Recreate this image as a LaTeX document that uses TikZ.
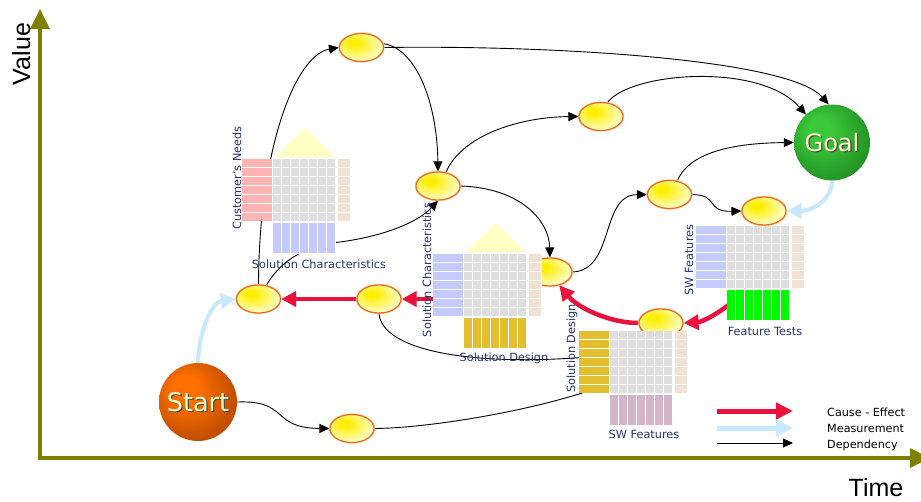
\documentclass[tikz,border=0pt]{standalone}
\usepackage{fontspec}
\setmainfont{DejaVu Sans}
\newfontfamily\axisfont{Liberation Sans}
\usetikzlibrary{arrows.meta,shapes.geometric}

\pgfdeclarelayer{back}
\pgfsetlayers{back,main}

% palette
\definecolor{axisolive}{RGB}{128,128,0}
\definecolor{causered}{RGB}{234,18,60}
\definecolor{measureblue}{RGB}{200,232,255}
\definecolor{eggcore}{RGB}{255,238,0}
\definecolor{eggpale}{RGB}{255,255,228}
\definecolor{eggline}{RGB}{232,110,28}
\definecolor{eggglow}{RGB}{250,205,170}
\definecolor{goalA}{RGB}{58,200,58}
\definecolor{goalB}{RGB}{26,122,26}
\definecolor{startA}{RGB}{255,112,0}
\definecolor{startB}{RGB}{160,60,0}
\definecolor{hubtext}{RGB}{255,255,200}
\definecolor{labelnavy}{RGB}{38,52,112}
\definecolor{cellgray}{RGB}{222,222,222}
\definecolor{cellbeige}{RGB}{242,226,212}
\definecolor{rowpink}{RGB}{255,180,180}
\definecolor{rowblue}{RGB}{196,204,255}
\definecolor{colgold}{RGB}{227,190,46}
\definecolor{colmauve}{RGB}{212,180,200}
\definecolor{colgreen}{RGB}{0,250,0}
\definecolor{roofyellow}{RGB}{255,255,196}

\pgfdeclareradialshading{eggfill}{\pgfqpoint{-10bp}{10bp}}{color(0bp)=(eggcore); color(5bp)=(eggcore); color(32bp)=(eggpale); color(50bp)=(eggpale)}
\pgfdeclareradialshading{goalfill}{\pgfqpoint{-10bp}{10bp}}{color(0bp)=(goalA); color(8bp)=(goalA); color(40bp)=(goalB); color(50bp)=(goalB)}
\pgfdeclareradialshading{startfill}{\pgfqpoint{-10bp}{10bp}}{color(0bp)=(startA); color(8bp)=(startA); color(40bp)=(startB); color(50bp)=(startB)}

% relationship matrix: #1,#2 = top-left corner of the grey grid,
% #3 = colour of the row block, #4 = colour of the column block
\newcommand\qfdblock[4]{%
  \begin{scope}[shift={(#1,#2)}]
    \fill[white] (-31,0) rectangle (-0.5,62);
    \fill[white] (0,0) rectangle (78,62);
    \fill[white] (0,63) rectangle (63,95);
    \foreach \r in {0,...,6} {
      \fill[#3] (-31,\r*9) rectangle (-1.5,\r*9+7.5);
      \foreach \c in {0,...,6}
        \fill[cellgray] (\c*9,\r*9) rectangle (\c*9+7.5,\r*9+7.5);
      \fill[cellbeige] (65,\r*9) rectangle (77,\r*9+7.5);
    }
    \foreach \c in {0,...,6}
      \fill[#4] (\c*9,64) rectangle (\c*9+7.5,94);
  \end{scope}}
\newcommand\qfdroof[2]{%
  \fill[roofyellow] (#1+2,#2-2) -- (#1+32,#2-31) -- (#1+62,#2-2) -- cycle;}

\begin{document}
\begin{tikzpicture}[x=1pt,y=-1pt,
  dep/.style={draw=black, line width=0.9pt, -{Triangle[length=10pt,width=9pt]}},
  cause/.style={draw=causered, line width=4.5pt, -{Triangle[length=15pt,width=15pt]}},
  measure/.style={draw=measureblue, line width=4pt, -{Triangle[length=15pt,width=15pt]}},
  axis/.style={draw=axisolive, line width=3.5pt, -{Triangle[length=20pt,width=19pt]}},
  egg/.style={ellipse, minimum width=44pt, minimum height=28pt, inner sep=0pt,
    draw=eggline, line width=1.2pt, shading=eggfill,
    preaction={draw=eggglow, line width=2.4pt}},
  hub/.style={circle, inner sep=0pt, minimum size=#1},
  hubword/.style={inner sep=0pt, text=hubtext},
  hubshadow/.style={inner sep=0pt, text=black!70},
  lbl/.style={text=labelnavy, font=\fontsize{11.3}{13}\selectfont, inner sep=0pt},
  vlbl/.style={lbl, rotate=90, anchor=base},
  hlbl/.style={lbl, anchor=base},
  legendtext/.style={inner sep=0pt, anchor=base west, font=\fontsize{11.2}{13}\selectfont},
  axislabel/.style={inner sep=0pt, anchor=base, font=\axisfont\fontsize{25}{27}\selectfont},
]
\useasboundingbox (0,0) rectangle (921,501);

% ---- milestones
\node[egg] (E1) at (361.5,47.5) {};
\node[egg] (E2) at (601,116.5) {};
\node[egg] (E3) at (438,186) {};
\node[egg] (E4) at (550,272) {};
\node[egg] (E5) at (258.5,299) {};
\node[egg] (E6) at (379,299) {};
\node[egg] (E7) at (352,428.5) {};
\node[egg] (E8) at (669.5,194.5) {};
\node[egg] (E9) at (764,211) {};
\node[egg] (E10) at (661,323) {};

\node[hub=76pt, shading=goalfill] (Goal) at (832,142.5) {};
\node[hubshadow, font=\fontsize{24}{26}\selectfont] (goalsh) at ([shift={(1.3,1.3)}]Goal.center) {Goal};
\node[hubword, font=\fontsize{24}{26}\selectfont] (goaltxt) at (Goal.center) {Goal};

\node[hub=78pt, shading=startfill] (Start) at (198,402) {};
\node[hubshadow, font=\fontsize{25.5}{27}\selectfont] (startsh) at ([shift={(1.3,1.3)}]Start.center) {Start};
\node[hubword, font=\fontsize{25.5}{27}\selectfont] (starttxt) at (Start.center) {Start};

% ---- relationship matrices
\qfdroof{273}{159}
\qfdblock{273}{159}{rowpink}{rowblue}
\node[vlbl] (m1rows) at (241,178) {Customer’s Needs};
\node[hlbl] (m1cols) at (319,268) {Solution Characteristics};

\qfdroof{464}{254}
\qfdblock{464}{254}{rowblue}{colgold}
\node[vlbl] (m2rows) at (431,270) {Solution Characteristics};
\node[hlbl] (m2cols) at (504,361) {Solution Design};

\qfdblock{610}{331}{colgold}{colmauve}
\node[vlbl] (m3rows) at (575,348.5) {Solution Design};
\node[hlbl] (m3cols) at (644,438) {SW Features};

\qfdblock{727}{226}{rowblue}{colgreen}
\node[vlbl] (m4rows) at (693,260) {SW Features};
\node[hlbl] (m4cols) at (765,335) {Feature Tests};

% ---- legend
\coordinate (lgRa) at (717,411); \coordinate (lgRb) at (793,411);
\coordinate (lgBa) at (717,428); \coordinate (lgBb) at (793,428);
\coordinate (lgKa) at (717,443); \coordinate (lgKb) at (793,443);
\draw[draw=causered, line width=5pt, -{Triangle[length=17pt,width=16pt]}] (lgRa) -- (lgRb);
\draw[draw=measureblue, line width=5pt, -{Triangle[length=17pt,width=16pt]}] (lgBa) -- (lgBb);
\draw[dep] (lgKa) -- (lgKb);
\node[legendtext] (lgR) at (827,416) {Cause - Effect};
\node[legendtext] (lgB) at (827,432) {Measurement};
\node[legendtext] (lgK) at (827,448) {Dependency};

% ---- axes
\node[axislabel, rotate=90] (vlabel) at (30,54) {Value};
\node[axislabel] (tlabel) at (876,496) {Time};

\coordinate (origin) at (40,458);
\coordinate (vtop) at (40,9);
\coordinate (hend) at (930,458);
\coordinate (hstart) at (38.25,458);

% hidden ends under the matrices
\coordinate (m2src) at (450,299);
\coordinate (m3inA) at (605,385);
\coordinate (m3inB) at (600,356);
\coordinate (m4src) at (735,300);

\begin{pgfonlayer}{back}
  \fill[white] (0,0) rectangle (921,501);
  \draw[axis] (origin) -- (vtop);
  \draw[axis] (hstart) -- (hend);

  % dependencies
  \draw[dep] (E5.north) .. controls (259,150) and (295,55) .. (E1.west);
  \draw[dep] (E1.east) .. controls (560,45) and (790,60) .. (Goal.95);
  \draw[dep] (E1.10) .. controls (415,48) and (437,100) .. (E3.north);
  \draw[dep] (E3.60) .. controls (462,135) and (520,117) .. (E2.west);
  \draw[dep] (E2.65) .. controls (630,72) and (760,62) .. (Goal.133);
  \draw[dep] (E3.east) .. controls (520,188) and (549,220) .. (E4.north);
  \draw[dep] (E5.60) .. controls (278,265) and (300,246) .. (340,242)
                     .. controls (385,236) and (418,222) .. (E3.south);
  \draw[dep] (E4.east) .. controls (615,270) and (600,195) .. (E8.west);
  \draw[dep] (E8.60) .. controls (690,150) and (740,143) .. (Goal.west);
  \draw[dep] (E8.east) .. controls (720,195) and (705,212) .. (E9.west);
  \draw[dep] (Start.east) .. controls (290,400) and (270,428) .. (E7.west);
  \draw[draw=black, line width=0.9pt] (E7.east) .. controls (430,428) and (540,410) .. (m3inA);
  \draw[draw=black, line width=0.9pt] (E6.south) .. controls (382,350) and (470,368) .. (m3inB);

  % cause and effect
  \draw[cause] (E6.west) -- (E5.east);
  \draw[cause] (m2src) -- (E6.east);
  \draw[cause] (E10.west) .. controls (610,323) and (578,308) .. (E4.305);
  \draw[cause] (m4src) .. controls (718,314) and (702,322) .. (E10.east);

  % measurements
  \draw[measure] (Start.north) .. controls (199,330) and (212,302) .. (E5.west);
  \draw[measure] (Goal.south) .. controls (832,200) and (812,211) .. (E9.east);
\end{pgfonlayer}
\end{tikzpicture}
\end{document}
